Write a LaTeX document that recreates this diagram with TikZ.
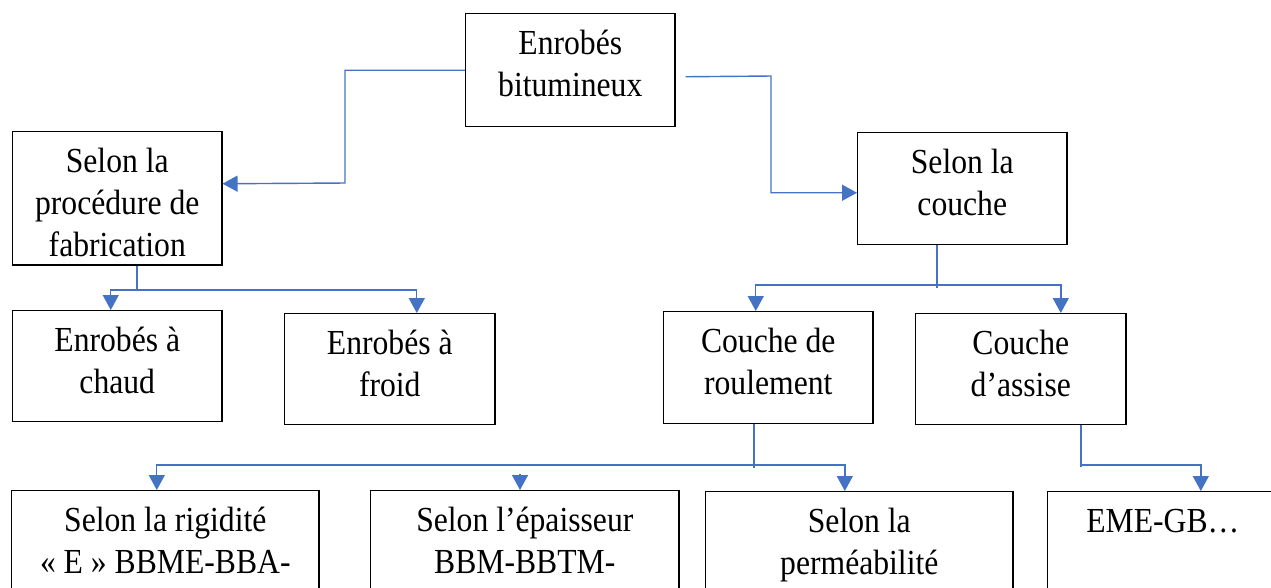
\documentclass[tikz,border=0pt]{standalone}
\usepackage{fontspec}
\setmainfont[FakeStretch=0.9]{Liberation Serif}
\usetikzlibrary{arrows.meta}
\definecolor{wordblue}{HTML}{4472C4}

\begin{document}
\begin{tikzpicture}
      [%%%%%%%%%%%%%%%%%%%%%%%%%%%%%%
          x=0.01cm, y=-0.01cm,
          box/.style={rectangle,draw=black,thin,anchor=north west,inner sep=0pt,
                      align=flush center,text height=.41cm,
                      font=\fontsize{10}{11.95}\selectfont},
          conn/.style={draw=wordblue,thin},
          arr/.style={conn,-{Triangle[length=1.5mm,width=1.6mm]}}
      ]%%%%%%%%%%%%%%%%%%%%%%%%%%%%%%

  \useasboundingbox (0,0) rectangle (1271,587);
  \clip (0,0) rectangle (1271,587);

  \node[box,text width=2.09cm,text depth=.72cm] (bitumineux) at (465,13) {Enrobés\\bitumineux};
  \node[box,text width=2.09cm,text depth=.92cm] (fabrication) at (12,131) {Selon la\\procédure de\\fabrication};
  \node[box,text width=2.09cm,text depth=.71cm] (couche) at (857,132) {Selon la\\couche};

  \node[box,text width=2.09cm,text depth=.70cm] (chaud) at (12,310) {Enrobés à\\chaud};
  \node[box,text width=2.10cm,text depth=.70cm] (froid) at (284,313) {Enrobés à\\froid};
  \node[box,text width=2.09cm,text depth=.71cm] (roulement) at (663,311) {Couche de\\roulement};
  \node[box,text width=2.10cm,text depth=.70cm] (assise) at (915,313) {Couche\\d’assise};

  \node[box,text width=3.07cm,text depth=1.3cm] (rigidite) at (11,490) {Selon la rigidité\\« E » BBME-BBA-};
  \node[box,text width=3.08cm,text depth=1.3cm] (epaisseur) at (370,490) {Selon l’épaisseur\\BBM-BBTM-};
  \node[box,text width=3.07cm,text depth=1.3cm] (permeabilite) at (705,491) {Selon la\\perméabilité};
  \node[box,text width=2.30cm,text depth=1.3cm] (eme) at (1047,491) {EME-GB…};

  % top level
  \coordinate (lbend) at (345,183);
  \coordinate (rbend) at (771,76);
  \draw[arr] (bitumineux.west) -| (lbend) -- ([yshift=.145cm]fabrication.east);
  \draw[arr] ([xshift=.1cm,yshift=-.065cm]bitumineux.east) -- (rbend) |- ([yshift=-.04cm]couche.west);

  % fabrication
  \coordinate (fabbar) at (137,290);
  \draw[conn] (fabrication.south -| fabbar) -- (fabbar);
  \draw[arr] (fabbar) -| ([xshift=-.065cm]chaud.north);
  \draw[arr] (fabbar) -| ([xshift=.27cm]froid.north);

  % couche
  \coordinate (couchebar) at (937,285);
  \draw[conn] (couche.south -| couchebar) -- (couchebar) -- ++(0,3);
  \draw[arr] (couchebar) -| ([xshift=-.125cm]roulement.north);
  \draw[arr] (couchebar) -| ([xshift=.4cm]assise.north);

  % roulement
  \coordinate (roulbar) at (754,465);
  \coordinate (epaisbout) at (520,474);
  \draw[conn] (roulement.south -| roulbar) -- (roulbar) -- ++(0,3);
  \draw[arr] (roulbar) -| ([xshift=-.085cm]rigidite.north);
  \draw[arr] (roulbar) -| ([xshift=-.145cm]permeabilite.north);
  \draw[arr] (epaisbout) -- (epaisbout |- epaisseur.north);

  % assise
  \coordinate (assisebar) at (1081,465);
  \draw[conn] (assise.south -| assisebar) -- (assisebar) -- ++(0,2);
  \draw[arr] (assisebar) -| ([xshift=.38cm]eme.north);

  \end{tikzpicture}
\end{document}
